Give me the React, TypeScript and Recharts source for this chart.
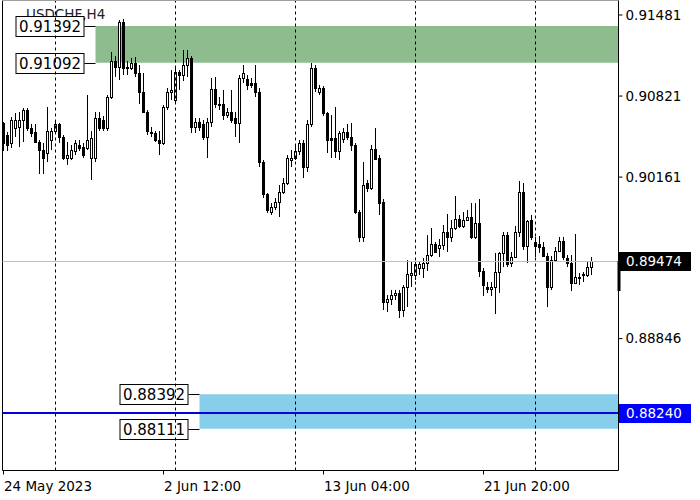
import { ComposedChart, Bar, XAxis, YAxis, ReferenceLine, ReferenceArea } from "recharts";

// USDCHF H4 candles (oldest first)
const opens = [
  0.9060, 0.9050, 0.9044, 0.9056, 0.9057, 0.9063, 0.9071, 0.9056, 0.9053, 0.9045,
  0.9038, 0.9036, 0.9046, 0.9054, 0.9059, 0.9049, 0.9032, 0.9032, 0.9037, 0.9042,
  0.9041, 0.9040, 0.9032, 0.9032, 0.9064, 0.9063, 0.9056, 0.9081, 0.9111, 0.9106,
  0.9142, 0.9106, 0.9105, 0.9109, 0.9101, 0.9085, 0.9069, 0.9053, 0.9052, 0.9046,
  0.9044, 0.9073, 0.9085, 0.9079, 0.9102, 0.9099, 0.9107, 0.9113, 0.9057, 0.9061,
  0.9059, 0.9049, 0.9061, 0.9088, 0.9076, 0.9076, 0.9067, 0.9069, 0.9064, 0.9060,
  0.9097, 0.9096, 0.9093, 0.9093, 0.9085, 0.9028, 0.9002, 0.8988, 0.8992, 0.8996,
  0.9004, 0.9011, 0.9030, 0.9032, 0.9037, 0.9044, 0.9024, 0.9059, 0.9105, 0.9085,
  0.9089, 0.9068, 0.9048, 0.9048, 0.9037, 0.9047, 0.9053, 0.9049, 0.9042, 0.8988,
  0.8967, 0.9011, 0.9007, 0.9039, 0.9032, 0.8996, 0.8914, 0.8917, 0.8920, 0.8922,
  0.8908, 0.8927, 0.8936, 0.8936, 0.8942, 0.8942, 0.8946, 0.8953, 0.8962, 0.8958,
  0.8961, 0.8971, 0.8967, 0.8975, 0.8982, 0.8976, 0.8981, 0.8984, 0.8967, 0.8979,
  0.8940, 0.8927, 0.8925, 0.8927, 0.8939, 0.8954, 0.8969, 0.8946, 0.8951, 0.8971,
  0.9004, 0.8960, 0.8981, 0.8963, 0.8962, 0.8959, 0.8952, 0.8927, 0.8949, 0.8956,
  0.8964, 0.8950, 0.8946, 0.8930, 0.8934, 0.8936, 0.8936, 0.8943,
];
const highs = [
  0.9061, 0.9053, 0.9065, 0.9068, 0.9069, 0.9072, 0.9072, 0.9059, 0.9059, 0.9046,
  0.9044, 0.9073, 0.9056, 0.9063, 0.9060, 0.9050, 0.9045, 0.9042, 0.9046, 0.9046,
  0.9044, 0.9083, 0.9054, 0.9069, 0.9069, 0.9066, 0.9083, 0.9118, 0.9115, 0.9144,
  0.9145, 0.9111, 0.9113, 0.9114, 0.9107, 0.9101, 0.9071, 0.9057, 0.9054, 0.9054,
  0.9075, 0.9089, 0.9103, 0.9105, 0.9103, 0.9120, 0.9120, 0.9115, 0.9064, 0.9064,
  0.9063, 0.9064, 0.9097, 0.9098, 0.9081, 0.9087, 0.9072, 0.9087, 0.9069, 0.9099,
  0.9107, 0.9099, 0.9097, 0.9107, 0.9089, 0.9030, 0.9003, 0.8995, 0.8999, 0.9010,
  0.9015, 0.9034, 0.9038, 0.9042, 0.9046, 0.9046, 0.9063, 0.9109, 0.9107, 0.9091,
  0.9090, 0.9069, 0.9067, 0.9073, 0.9054, 0.9056, 0.9059, 0.9060, 0.9044, 0.8989,
  0.9028, 0.9014, 0.9042, 0.9056, 0.9034, 0.8998, 0.8920, 0.8924, 0.8924, 0.8924,
  0.8928, 0.8949, 0.8948, 0.8947, 0.8948, 0.8950, 0.8969, 0.8975, 0.8963, 0.8966,
  0.8977, 0.8986, 0.8981, 0.9001, 0.8985, 0.8988, 0.8989, 0.8995, 0.8995, 0.8998,
  0.8942, 0.8931, 0.8931, 0.8954, 0.8955, 0.8971, 0.8971, 0.8955, 0.8976, 0.9013,
  0.9011, 0.8981, 0.8985, 0.8967, 0.8968, 0.8963, 0.8954, 0.8952, 0.8959, 0.8967,
  0.8967, 0.8953, 0.8953, 0.8970, 0.8938, 0.8939, 0.8947, 0.8951,
];
const lows = [
  0.9037, 0.9037, 0.9040, 0.9049, 0.9041, 0.9045, 0.9054, 0.9049, 0.9044, 0.9019,
  0.9019, 0.9028, 0.9038, 0.9052, 0.9044, 0.9030, 0.9026, 0.9030, 0.9034, 0.9037,
  0.9032, 0.9038, 0.9014, 0.9028, 0.9054, 0.9054, 0.9054, 0.9080, 0.9098, 0.9095,
  0.9099, 0.9099, 0.9103, 0.9098, 0.9076, 0.9068, 0.9050, 0.9049, 0.9045, 0.9034,
  0.9042, 0.9071, 0.9079, 0.9077, 0.9087, 0.9094, 0.9098, 0.9052, 0.9052, 0.9054,
  0.9046, 0.9032, 0.9057, 0.9072, 0.9071, 0.9063, 0.9064, 0.9060, 0.9049, 0.9044,
  0.9093, 0.9087, 0.9089, 0.9081, 0.9024, 0.8999, 0.8987, 0.8985, 0.8989, 0.8984,
  0.9002, 0.9010, 0.9024, 0.9030, 0.9034, 0.9015, 0.9020, 0.9057, 0.9085, 0.9083,
  0.9066, 0.9036, 0.9032, 0.9032, 0.9030, 0.9044, 0.9046, 0.9037, 0.8986, 0.8963,
  0.8963, 0.9004, 0.9006, 0.9030, 0.8985, 0.8908, 0.8906, 0.8912, 0.8916, 0.8901,
  0.8902, 0.8910, 0.8927, 0.8932, 0.8936, 0.8934, 0.8940, 0.8951, 0.8955, 0.8951,
  0.8957, 0.8955, 0.8963, 0.8973, 0.8975, 0.8975, 0.8980, 0.8966, 0.8966, 0.8935,
  0.8919, 0.8922, 0.8919, 0.8905, 0.8922, 0.8943, 0.8943, 0.8943, 0.8950, 0.8967,
  0.8957, 0.8946, 0.8965, 0.8951, 0.8954, 0.8951, 0.8910, 0.8924, 0.8947, 0.8955,
  0.8949, 0.8943, 0.8923, 0.8929, 0.8928, 0.8931, 0.8935, 0.8936,
];
const closes = [
  0.9044, 0.9042, 0.9063, 0.9063, 0.9063, 0.9071, 0.9056, 0.9052, 0.9045, 0.9038,
  0.9032, 0.9054, 0.9054, 0.9059, 0.9049, 0.9032, 0.9034, 0.9038, 0.9044, 0.9040,
  0.9034, 0.9046, 0.9048, 0.9064, 0.9056, 0.9056, 0.9081, 0.9111, 0.9106, 0.9142,
  0.9105, 0.9105, 0.9109, 0.9101, 0.9085, 0.9069, 0.9054, 0.9052, 0.9046, 0.9044,
  0.9073, 0.9085, 0.9087, 0.9102, 0.9099, 0.9107, 0.9113, 0.9057, 0.9061, 0.9057,
  0.9049, 0.9061, 0.9088, 0.9076, 0.9075, 0.9067, 0.9069, 0.9063, 0.9060, 0.9097,
  0.9101, 0.9091, 0.9091, 0.9085, 0.9028, 0.9002, 0.8989, 0.8992, 0.8996, 0.9004,
  0.9011, 0.9032, 0.9032, 0.9037, 0.9044, 0.9024, 0.9059, 0.9105, 0.9089, 0.9089,
  0.9068, 0.9046, 0.9046, 0.9037, 0.9052, 0.9053, 0.9049, 0.9042, 0.8988, 0.8967,
  0.9010, 0.9007, 0.9039, 0.9031, 0.8995, 0.8914, 0.8917, 0.8920, 0.8922, 0.8908,
  0.8927, 0.8937, 0.8938, 0.8945, 0.8945, 0.8946, 0.8953, 0.8962, 0.8955, 0.8961,
  0.8971, 0.8967, 0.8975, 0.8982, 0.8976, 0.8981, 0.8984, 0.8967, 0.8979, 0.8940,
  0.8928, 0.8925, 0.8927, 0.8939, 0.8954, 0.8969, 0.8945, 0.8951, 0.8971, 0.9004,
  0.8960, 0.8980, 0.8967, 0.8960, 0.8959, 0.8952, 0.8927, 0.8949, 0.8956, 0.8964,
  0.8951, 0.8946, 0.8930, 0.8935, 0.8935, 0.8937, 0.8943, 0.89474,
];

const dateTicks = [0, 40, 80, 120];
const dateLabels = ["24 May 2023", "2 Jun 12:00", "13 Jun 04:00", "21 Jun 20:00"];
const gridBars = [13, 43, 73, 103, 133];
const priceTicks = [0.91481, 0.90821, 0.90161, 0.88846];
const greenZone = [0.91392, 0.91092];
const blueZone = [0.88392, 0.88111];
const greenStart = 23;
const blueStart = 49;
const bidPrice = 0.89474;
const levelPrice = 0.8824;

const X_DOMAIN: [number, number] = [-0.25, 153.75];
const Y_DOMAIN: [number, number] = [0.87772, 0.91599];
const FONT = "'DejaVu Sans', sans-serif";

const data = opens.map((open, i) => ({
  i,
  open,
  close: closes[i],
  high: highs[i],
  low: lows[i],
  range: [lows[i], highs[i]],
}));

const Candle = (props: any) => {
  const { x, y, width, height, payload } = props;
  const { open, close, high, low } = payload;
  // snap to the pixel grid so bodies stay crisp
  const cx = Math.round(x + width / 2 - 0.5) + 0.5;
  const toY = (v: number) => y + ((high - v) / (high - low)) * height;
  const top = Math.round(toY(Math.max(open, close)));
  const bot = Math.round(toY(Math.min(open, close)));
  const h = Math.max(bot - top, 1);
  return (
    <g>
      <line x1={cx} x2={cx} y1={Math.round(y)} y2={Math.round(y + height)} stroke="#000" />
      {close >= open ? (
        <rect x={cx - 1} y={top + 0.5} width={2} height={h} fill="#fff" stroke="#000" />
      ) : (
        <rect x={cx - 1.5} y={top} width={3} height={h + 1} fill="#000" />
      )}
    </g>
  );
};

const DateTick = (props: any) => {
  const { x, y, payload } = props;
  const label = dateLabels[dateTicks.indexOf(payload.value)];
  return (
    <text x={x + 0.5} y={y + 14} fill="#000" fontSize={13.5} fontFamily={FONT} textAnchor="start">
      {label}
    </text>
  );
};

// price boxes at the left edge of a rectangle zone
const ZoneLabels = (props: any) => {
  const { viewBox, prices, title } = props;
  const { x, y, height } = viewBox;
  const rows = [
    { p: prices[0], yy: Math.round(y) + 0.5 },
    { p: prices[1], yy: Math.round(y + height) + 0.5 },
  ];
  return (
    <g>
      {title && (
        <text x={26} y={19} fill="#222" fontSize={13.5} fontFamily={FONT}>
          {title}
        </text>
      )}
      {rows.map((r) => (
        <g key={r.p}>
          <line x1={x - 11} x2={x} y1={r.yy} y2={r.yy} stroke="#000" />
          <rect x={x - 79.5} y={r.yy - 10} width={68} height={20} fill="#fff" stroke="#000" />
          <text x={x - 45.5} y={r.yy + 5.5} fill="#000" fontSize={15} fontFamily={FONT} textAnchor="middle">
            {r.p.toFixed(5)}
          </text>
        </g>
      ))}
    </g>
  );
};

// price tag on the right axis
const PriceTag = (props: any) => {
  const { viewBox, price, bg, marker } = props;
  const right = viewBox.x + viewBox.width;
  const yy = Math.round(viewBox.y);
  return (
    <g>
      {marker && <rect x={right - 1} y={yy} width={3} height={30} fill="#000" />}
      <rect x={right + 0.5} y={yy - 9} width={72} height={19} fill={bg} />
      <text x={right + 7.5} y={yy + 5} fill="#fff" fontSize={13.5} fontFamily={FONT}>
        {price.toFixed(5)}
      </text>
    </g>
  );
};

export default function App() {
  return (
    <div style={{ position: "absolute", left: 0, top: 0, background: "#fff" }}>
      <ComposedChart
        width={700}
        height={500}
        data={data}
        margin={{ top: 0.5, right: 1.5, bottom: 0, left: 2.5 }}
        style={{ fontFamily: FONT }}
      >
        <XAxis
          type="number"
          dataKey="i"
          domain={X_DOMAIN}
          allowDataOverflow
          ticks={dateTicks}
          interval={0}
          height={29.5}
          tickSize={4}
          axisLine={{ stroke: "#000" }}
          tickLine={{ stroke: "#000" }}
          tick={<DateTick />}
        />
        <YAxis
          orientation="right"
          type="number"
          domain={Y_DOMAIN}
          allowDataOverflow
          ticks={priceTicks}
          interval={0}
          width={80}
          tickSize={4}
          tickMargin={3}
          axisLine={{ stroke: "#000" }}
          tickLine={{ stroke: "#000" }}
          tick={{ fill: "#000", fontSize: 13.5, fontFamily: FONT }}
          tickFormatter={(v: number) => v.toFixed(5)}
        />
        <ReferenceArea
          x1={greenStart}
          x2={X_DOMAIN[1]}
          y1={greenZone[1]}
          y2={greenZone[0]}
          fill="#8fbc8f"
          fillOpacity={1}
          stroke="none"
          label={<ZoneLabels prices={greenZone} title="USDCHF,H4" />}
        />
        <ReferenceArea
          x1={blueStart}
          x2={X_DOMAIN[1]}
          y1={blueZone[1]}
          y2={blueZone[0]}
          fill="#87ceeb"
          fillOpacity={1}
          stroke="none"
          label={<ZoneLabels prices={blueZone} />}
        />
        {gridBars.map((b) => (
          <ReferenceLine key={b} x={b} stroke="#000" strokeDasharray="3 3" />
        ))}
        <ReferenceLine x={X_DOMAIN[0]} stroke="#000" />
        <ReferenceLine y={Y_DOMAIN[1]} stroke="#a0a0a0" />
        <ReferenceLine
          y={bidPrice}
          stroke="#c0c0c0"
          label={<PriceTag price={bidPrice} bg="#000" marker />}
        />
        <ReferenceLine
          y={levelPrice}
          stroke="#0000dd"
          strokeWidth={2}
          label={<PriceTag price={levelPrice} bg="#0000ff" />}
        />
        <Bar dataKey="range" barSize={3} shape={<Candle />} isAnimationActive={false} />
      </ComposedChart>
    </div>
  );
}
